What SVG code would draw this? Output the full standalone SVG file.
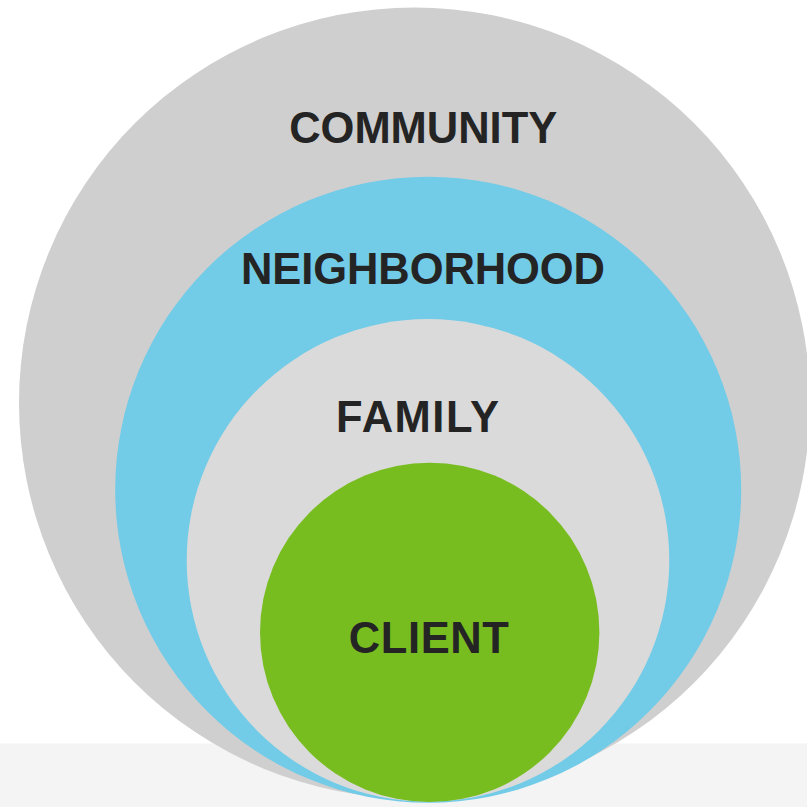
<svg xmlns="http://www.w3.org/2000/svg" width="807" height="807" viewBox="0 0 807 807">
<style>
.lbl{font-family:"Liberation Sans",Arial,sans-serif;font-weight:bold;font-size:43.5px;fill:#242424;text-anchor:middle}
</style>
<rect x="0" y="0" width="807" height="807" fill="#ffffff"/>
<rect x="0" y="743.5" width="807" height="63.5" fill="#f4f4f4"/>
<g id="community">
<circle cx="414.5" cy="403" r="395.5" fill="#cfcfcf"/>
<text class="lbl" x="423.2" y="143.3" textLength="268" lengthAdjust="spacing">COMMUNITY</text>
</g>
<g id="neighborhood">
<circle cx="428.2" cy="489.7" r="313" fill="#72cbe7"/>
<text class="lbl" x="423" y="284.3" textLength="364" lengthAdjust="spacing">NEIGHBORHOOD</text>
</g>
<g id="family">
<circle cx="428" cy="560.3" r="241.3" fill="#dadada"/>
<text class="lbl" x="417.5" y="431.7" textLength="163" lengthAdjust="spacing">FAMILY</text>
</g>
<g id="client">
<circle cx="429.7" cy="632.4" r="169.7" fill="#78bd20"/>
<text class="lbl" x="428.8" y="653" textLength="160" lengthAdjust="spacing">CLIENT</text>
</g>
<g id="connectors"></g>
</svg>
